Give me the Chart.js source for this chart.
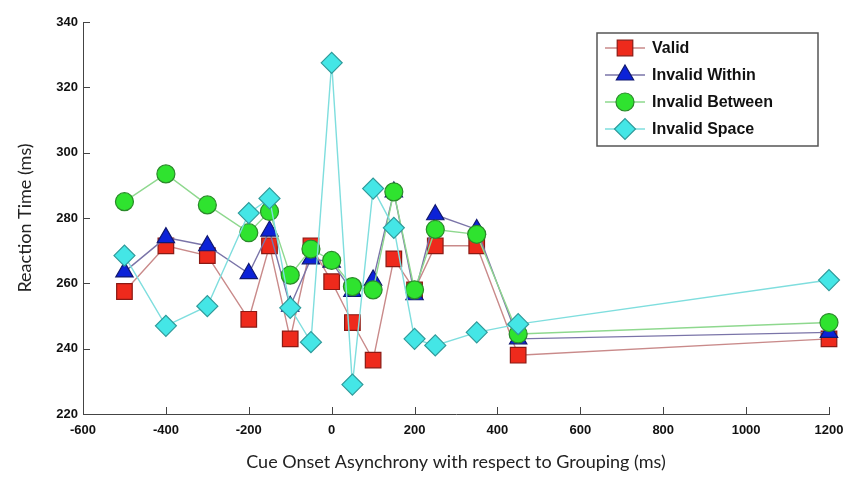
<!DOCTYPE html>
<html>
<head>
<meta charset="utf-8">
<script src="https://cdn.jsdelivr.net/npm/chart.js@4.4.1/dist/chart.umd.min.js"></script>
<style>
  html, body { margin: 0; padding: 0; background: #fff; }
  #wrap { width: 845px; height: 478px; }
</style>
</head>
<body>
<div id="wrap"><canvas id="rt-chart" width="845" height="478"></canvas></div>
<script>
// cue onset asynchrony (ms)
var soa = [-500, -400, -300, -200, -150, -100, -50, 0, 50, 100, 150, 200, 250, 350, 450, 1200];

// reaction times (ms)
var valid = [257.5, 271.5, 268.5, 249, 271.5, 243, 271.5, 260.5, 248, 236.5, 267.5, 258, 271.5, 271.5, 238, 243];
var invalidWithin = [263.5, 274, 271.5, 263, 276, 253, 267.5, 266.5, 257.5, 261, 288, 256.5, 281, 276.5, 243, 245];
var invalidBetween = [285, 293.5, 284, 275.5, 282, 262.5, 270.5, 267, 259, 258, 288, 258, 276.5, 275, 244.5, 248];
var invalidSpace = [268.5, 247, 253, 281.5, 286, 252.5, 242, 327.5, 229, 289, 277, 243, 241, 245, 247.5, 261];

var seriesNames = ['Valid', 'Invalid Within', 'Invalid Between', 'Invalid Space'];
var xTicks = [-600, -400, -200, 0, 200, 400, 600, 800, 1000, 1200];
var yTicks = [220, 240, 260, 280, 300, 320, 340];

function pts(ys) {
  return soa.map(function (x, i) { return { x: x, y: ys[i] }; });
}

var styles = [
  { line: '#c98a8a', fill: '#ee2a1c', edge: '#8a1a14', shape: 'rect', r: 11 },
  { line: '#7a74a8', fill: '#0c22d8', edge: '#101870', shape: 'triangle', r: 10 },
  { line: '#8ed88e', fill: '#2fe32f', edge: '#2a8a2a', shape: 'circle', r: 9 },
  { line: '#7fdede', fill: '#44e6e6', edge: '#2f9a9a', shape: 'rectRot', r: 10.5 }
];
var allSeries = [valid, invalidWithin, invalidBetween, invalidSpace];

var datasets = allSeries.map(function (ys, i) {
  var s = styles[i];
  return {
    label: seriesNames[i],
    data: pts(ys),
    borderColor: s.line,
    borderWidth: 1.4,
    pointStyle: s.shape,
    pointRadius: s.r,
    pointHoverRadius: s.r,
    pointBackgroundColor: s.fill,
    pointBorderColor: s.edge,
    pointBorderWidth: 1.2,
    tension: 0,
    clip: false,
    order: 4 - i
  };
});

// matlab style inward ticks + legend box
var matlabBits = {
  id: 'matlabBits',
  afterDraw: function (chart) {
    var ctx = chart.ctx, a = chart.chartArea;
    var xs = chart.scales.x, ys = chart.scales.y;
    ctx.save();
    ctx.strokeStyle = '#444';
    ctx.lineWidth = 1;
    ctx.beginPath();
    xTicks.forEach(function (v) {
      var px = Math.round(xs.getPixelForValue(v)) + 0.5;
      ctx.moveTo(px, a.bottom);
      ctx.lineTo(px, a.bottom - 7);
    });
    yTicks.forEach(function (v) {
      var py = Math.round(ys.getPixelForValue(v)) + 0.5;
      ctx.moveTo(a.left, py);
      ctx.lineTo(a.left + 7, py);
    });
    ctx.stroke();

    // legend
    var bx = 597, by = 33, bw = 221, bh = 113;
    ctx.fillStyle = '#fff';
    ctx.fillRect(bx, by, bw, bh);
    ctx.strokeStyle = '#555';
    ctx.lineWidth = 1.5;
    ctx.strokeRect(bx, by, bw, bh);
    ctx.font = 'bold 16px "Liberation Sans", Arial, sans-serif';
    ctx.textBaseline = 'middle';
    seriesNames.forEach(function (name, i) {
      var s = styles[i];
      var y = by + 15 + i * 27;
      ctx.strokeStyle = s.line;
      ctx.lineWidth = 1.4;
      ctx.beginPath();
      ctx.moveTo(bx + 8, y);
      ctx.lineTo(bx + 48, y);
      ctx.stroke();
      ctx.fillStyle = s.fill;
      ctx.strokeStyle = s.edge;
      ctx.lineWidth = 1.2;
      Chart.helpers.drawPoint(ctx, { pointStyle: s.shape, radius: s.r, borderWidth: 1.2 }, bx + 28, y);
      ctx.fillStyle = '#111';
      ctx.fillText(name, bx + 55, y + 1);
    });
    ctx.restore();
  }
};

var config = {
  type: 'line',
  data: { datasets: datasets },
  options: {
    responsive: false,
    animation: false,
    layout: { padding: { top: 22, right: 0, left: 0, bottom: 0 } },
    plugins: {
      legend: { display: false },
      tooltip: { enabled: false }
    },
    scales: {
      x: {
        type: 'linear',
        min: -600,
        max: 1200,
        afterBuildTicks: function (scale) {
          scale.ticks = xTicks.map(function (v) { return { value: v }; });
        },
        afterFit: function (scale) {
          scale.height = 64;
          scale.paddingLeft = 0;
          scale.paddingRight = 16;
        },
        grid: { display: false, drawTicks: false },
        border: { display: true, color: '#444', width: 1 },
        ticks: {
          padding: 9,
          color: '#111',
          maxRotation: 0,
          callback: function (v) { return String(v); },
          font: { family: '"Liberation Sans", Arial, sans-serif', size: 13, weight: 'bold' }
        },
        title: {
          display: true,
          text: 'Cue Onset Asynchrony with respect to Grouping (ms)',
          color: '#222',
          font: { family: 'Lato, "Open Sans", sans-serif', size: 18 },
          padding: { top: 0, bottom: 5 }
        }
      },
      y: {
        min: 220,
        max: 340,
        afterBuildTicks: function (scale) {
          scale.ticks = yTicks.map(function (v) { return { value: v }; });
        },
        afterFit: function (scale) { scale.width = 83; },
        grid: { display: false, drawTicks: false },
        border: { display: true, color: '#444', width: 1 },
        ticks: {
          padding: 5,
          color: '#111',
          callback: function (v) { return String(v); },
          font: { family: '"Liberation Sans", Arial, sans-serif', size: 13, weight: 'bold' }
        },
        title: {
          display: true,
          text: 'Reaction Time (ms)',
          color: '#222',
          font: { family: 'Lato, "Open Sans", sans-serif', size: 18 },
          padding: { top: 14, bottom: 0 }
        }
      }
    }
  },
  plugins: [matlabBits]
};

var ctx = document.getElementById('rt-chart').getContext('2d');
var rtChart = new Chart(ctx, config);
</script>
</body>
</html>
